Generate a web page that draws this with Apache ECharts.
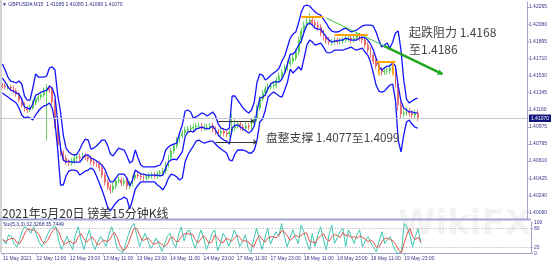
<!DOCTYPE html>
<html><head><meta charset="utf-8">
<script src="https://cdn.jsdelivr.net/npm/echarts@6/dist/echarts.min.js"></script>
<style>html,body{margin:0;padding:0;background:#fff}#c{width:554px;height:265px}</style>
</head><body><div id="c"></div>
<script>
// ---- data (hourly aggregation of GBPUSD M15) ----
const firstOpen = 1.41420;
const lastPrice = 1.41070;
const closes = [
1.41416,1.41406,1.41406,1.41395,1.41363,1.41330,1.41266,1.41212,1.41169,1.41159,
1.41180,1.41234,1.41277,1.41298,1.41320,1.41363,1.41395,1.41373,1.41245,1.40998,
1.40783,1.40697,1.40643,1.40600,1.40589,1.40611,1.40643,1.40654,1.40643,1.40665,
1.40654,1.40632,1.40600,1.40589,1.40579,1.40536,1.40461,1.40385,1.40332,1.40299,
1.40342,1.40396,1.40407,1.40375,1.40396,1.40342,1.40364,1.40428,1.40461,1.40450,
1.40439,1.40428,1.40439,1.40450,1.40461,1.40450,1.40471,1.40482,1.40503,1.40568,
1.40643,1.40718,1.40772,1.40836,1.40879,1.40912,1.40944,1.40955,1.40965,1.40976,
1.40987,1.40987,1.40965,1.40976,1.40976,1.40987,1.40955,1.40922,1.40912,1.40933,
1.40912,1.40901,1.40922,1.40965,1.40987,1.41008,1.40976,1.40965,1.40987,1.40976,
1.41008,1.41062,1.41180,1.41277,1.41341,1.41384,1.41406,1.41416,1.41427,1.41481,
1.41524,1.41567,1.41610,1.41653,1.41685,1.41717,1.41782,1.41910,1.42007,1.42072,
1.42104,1.42125,1.42093,1.42072,1.42050,1.41986,1.41943,1.41910,1.41889,1.41889,
1.41910,1.41900,1.41900,1.41910,1.41921,1.41932,1.41910,1.41932,1.41953,1.41932,
1.41910,1.41857,1.41803,1.41749,1.41685,1.41631,1.41588,1.41567,1.41577,1.41577,
1.41610,1.41588,1.41438,1.41212,1.41116,1.41126,1.41148,1.41126,1.41105,1.41126,1.41070];
const highs = [
1.41450,1.41445,1.41440,1.41430,1.41420,1.41390,1.41355,1.41295,1.41240,1.41200,
1.41210,1.41265,1.41310,1.41330,1.41355,1.41400,1.41440,1.41430,1.41400,1.41270,
1.41020,1.40810,1.40730,1.40680,1.40630,1.40645,1.40680,1.40690,1.40690,1.40700,
1.40700,1.40690,1.40665,1.40630,1.40620,1.40610,1.40565,1.40490,1.40415,1.40360,
1.40375,1.40430,1.40445,1.40440,1.40430,1.40425,1.40395,1.40460,1.40495,1.40490,
1.40480,1.40470,1.40470,1.40485,1.40495,1.40490,1.40505,1.40515,1.40540,1.40600,
1.40675,1.40750,1.40805,1.40870,1.40915,1.40945,1.40980,1.40990,1.41000,1.41010,
1.41020,1.41025,1.41020,1.41010,1.41010,1.41020,1.41020,1.40985,1.40955,1.40965,
1.40965,1.40945,1.40955,1.41120,1.41060,1.41045,1.41040,1.41010,1.41025,1.41020,
1.41045,1.41095,1.41215,1.41310,1.41375,1.41420,1.41445,1.41455,1.41465,1.41515,
1.41560,1.41600,1.41645,1.41690,1.41720,1.41755,1.41820,1.41945,1.42045,1.42110,
1.42150,1.42200,1.42165,1.42130,1.42110,1.42080,1.42020,1.41975,1.41945,1.41925,
1.41945,1.41940,1.41935,1.41945,1.41955,1.41970,1.41965,1.41965,1.41990,1.41985,
1.41965,1.41940,1.41890,1.41835,1.41780,1.41720,1.41665,1.41620,1.41615,1.41615,
1.41650,1.41645,1.41620,1.41470,1.41250,1.41170,1.41185,1.41180,1.41160,1.41165,1.41160];
const lows = [
1.41390,1.41380,1.41375,1.41365,1.41335,1.41300,1.41240,1.41185,1.41140,1.41125,
1.41135,1.41160,1.41210,1.41250,1.41270,1.41295,1.40830,1.41340,1.41210,1.40960,
1.40750,1.40665,1.40610,1.40570,1.40555,1.40560,1.40580,1.40610,1.40610,1.40615,
1.40620,1.40600,1.40570,1.40555,1.40545,1.40500,1.40430,1.40350,1.40300,1.40260,
1.40270,1.40315,1.40370,1.40340,1.40345,1.40305,1.40310,1.40335,1.40400,1.40420,
1.40405,1.40395,1.40400,1.40410,1.40420,1.40420,1.40420,1.40440,1.40450,1.40475,
1.40540,1.40615,1.40690,1.40745,1.40805,1.40850,1.40880,1.40910,1.40920,1.40930,
1.40940,1.40950,1.40930,1.40930,1.40940,1.40945,1.40920,1.40890,1.40875,1.40880,
1.40875,1.40865,1.40870,1.40890,1.40935,1.40955,1.40940,1.40930,1.40935,1.40940,
1.40945,1.40980,1.41035,1.41150,1.41250,1.41310,1.41350,1.41375,1.41385,1.41395,
1.41450,1.41490,1.41535,1.41580,1.41620,1.41650,1.41685,1.41750,1.41875,1.41975,
1.42040,1.42070,1.42060,1.42035,1.42010,1.41950,1.41905,1.41875,1.41855,1.41850,
1.41860,1.41865,1.41865,1.41870,1.41880,1.41890,1.41875,1.41880,1.41900,1.41900,
1.41875,1.41820,1.41770,1.41715,1.41650,1.41595,1.41550,1.41530,1.41535,1.41540,
1.41545,1.41550,1.41400,1.41150,1.41070,1.41080,1.41095,1.41085,1.41060,1.41070,1.41040];
const bbUpper = [
1.41653,1.41588,1.41513,1.41470,1.41460,1.41449,1.41470,1.41438,1.41309,1.41266,
1.41266,1.41395,1.41545,1.41513,1.41513,1.41513,1.41524,1.41610,1.41621,1.41588,
1.41319,1.41138,1.40890,1.40750,1.40708,1.40686,1.40675,1.40686,1.40739,1.40804,
1.40847,1.40836,1.40739,1.40750,1.40772,1.40804,1.40836,1.40836,1.40782,1.40686,
1.40665,1.40708,1.40750,1.40739,1.40729,1.40665,1.40590,1.40611,1.40729,1.40643,
1.40568,1.40547,1.40547,1.40547,1.40547,1.40547,1.40558,1.40568,1.40622,1.40729,
1.40761,1.40782,1.40793,1.40804,1.40912,1.40997,1.41148,1.41159,1.41138,1.41073,
1.41084,1.41105,1.41127,1.41116,1.41095,1.41116,1.41138,1.41095,1.41008,1.40965,
1.40954,1.40944,1.40965,1.41309,1.41309,1.41266,1.41223,1.41180,1.41148,1.41127,
1.41159,1.41245,1.41460,1.41545,1.41534,1.41481,1.41502,1.41534,1.41556,1.41577,
1.41610,1.41685,1.41739,1.41835,1.41932,1.41975,1.41997,1.42093,1.42212,1.42276,
1.42286,1.42276,1.42243,1.42212,1.42190,1.42179,1.42136,1.42093,1.42039,1.42007,
1.41997,1.41997,1.42007,1.42028,1.42039,1.42018,1.41997,1.42007,1.42018,1.42039,
1.42061,1.42071,1.42071,1.42071,1.42061,1.41997,1.41910,1.41835,1.41856,1.41878,
1.41824,1.41889,1.41986,1.42007,1.41803,1.41481,1.41276,1.41234,1.41255,1.41276,1.41287];
const bbMiddle = [
1.41502,1.41460,1.41406,1.41373,1.41362,1.41341,1.41330,1.41276,1.41191,1.41180,
1.41169,1.41223,1.41319,1.41330,1.41352,1.41362,1.41373,1.41416,1.41395,1.41309,
1.41030,1.40750,1.40622,1.40600,1.40611,1.40600,1.40600,1.40600,1.40600,1.40643,
1.40675,1.40675,1.40643,1.40632,1.40611,1.40590,1.40568,1.40525,1.40450,1.40386,
1.40386,1.40428,1.40471,1.40471,1.40471,1.40428,1.40342,1.40407,1.40514,1.40493,
1.40471,1.40471,1.40460,1.40460,1.40460,1.40460,1.40460,1.40450,1.40460,1.40536,
1.40600,1.40622,1.40632,1.40622,1.40665,1.40708,1.40869,1.40922,1.40933,1.40922,
1.40955,1.40965,1.40976,1.40965,1.40955,1.40965,1.40987,1.40944,1.40890,1.40858,
1.40836,1.40825,1.40793,1.40965,1.40997,1.40997,1.40976,1.40955,1.40933,1.40912,
1.40933,1.40987,1.41148,1.41287,1.41298,1.41319,1.41395,1.41438,1.41460,1.41460,
1.41460,1.41492,1.41556,1.41653,1.41760,1.41760,1.41792,1.41857,1.41900,1.41997,
1.42071,1.42093,1.42071,1.42039,1.42028,1.42028,1.41986,1.41943,1.41910,1.41889,
1.41900,1.41900,1.41910,1.41910,1.41932,1.41921,1.41910,1.41910,1.41910,1.41932,
1.41943,1.41932,1.41910,1.41867,1.41803,1.41717,1.41631,1.41588,1.41610,1.41631,
1.41631,1.41664,1.41631,1.41416,1.41255,1.41180,1.41159,1.41138,1.41138,1.41127,1.41127];
const bbLower = [
1.41341,1.41319,1.41298,1.41276,1.41255,1.41234,1.41180,1.41105,1.41073,1.41084,
1.41073,1.41051,1.41105,1.41148,1.41180,1.41202,1.41212,1.41234,1.41180,1.41030,
1.40729,1.40353,1.40353,1.40450,1.40503,1.40514,1.40514,1.40503,1.40460,1.40482,
1.40503,1.40514,1.40536,1.40514,1.40450,1.40375,1.40299,1.40214,1.40117,1.40074,
1.40117,1.40160,1.40192,1.40203,1.40224,1.40203,1.40096,1.40192,1.40310,1.40353,
1.40386,1.40386,1.40386,1.40386,1.40386,1.40386,1.40353,1.40332,1.40299,1.40353,
1.40428,1.40471,1.40460,1.40439,1.40407,1.40428,1.40600,1.40675,1.40729,1.40772,
1.40825,1.40836,1.40815,1.40804,1.40815,1.40825,1.40825,1.40793,1.40761,1.40739,
1.40718,1.40697,1.40622,1.40611,1.40686,1.40729,1.40729,1.40729,1.40718,1.40697,
1.40697,1.40729,1.40836,1.41030,1.41062,1.41159,1.41298,1.41330,1.41352,1.41330,
1.41309,1.41298,1.41373,1.41460,1.41599,1.41556,1.41588,1.41621,1.41588,1.41717,
1.41856,1.41910,1.41889,1.41856,1.41867,1.41878,1.41835,1.41782,1.41771,1.41782,
1.41803,1.41803,1.41803,1.41803,1.41814,1.41824,1.41835,1.41814,1.41803,1.41814,
1.41824,1.41782,1.41749,1.41674,1.41556,1.41427,1.41362,1.41352,1.41362,1.41395,
1.41427,1.41438,1.41266,1.40836,1.40708,1.40890,1.41030,1.41051,1.41008,1.40976,1.40965];
const stochK = [
45,30,60,55,30,20,45,75,86,78, 65,86,60,35,22,40,62,78,85,86,
40,12,35,55,30,12,60,86,45,12, 50,76,35,12,35,55,40,22,60,86,
55,15,8,3,30,60,85,97,60,22, 45,65,40,16,30,50,30,6,30,55,
65,35,18,60,86,40,70,76,40,16, 45,76,50,12,35,65,76,8,30,65,
50,22,45,76,55,22,40,60,15,3, 45,81,45,12,50,81,30,50,70,55,
97,55,21,50,76,50,32,92,70,35, 11,65,22,60,86,45,11,60,92,32,
50,70,81,21,76,55,32,60,76,21, 40,54,35,18,5,40,70,32,45,54,
25,5,0,5,97,85,60,21,55,80,32];
const stochD = [
45,38,45,48,48,35,32,47,69,80, 76,76,70,60,39,32,41,60,75,83,
70,46,29,34,40,32,34,53,64,48, 36,46,54,41,27,34,43,39,41,56,
67,52,26,9,14,31,58,81,81,60, 42,44,50,40,29,32,37,29,22,30,
50,52,39,38,55,62,65,62,62,44, 34,46,57,46,32,37,59,50,38,34,
48,46,39,48,59,51,39,41,38,26, 21,43,57,46,36,48,54,54,50,58,
74,69,58,42,49,59,53,58,65,66, 39,37,33,49,56,64,47,39,54,61,
58,51,67,57,59,51,54,49,56,52, 46,38,43,36,19,21,38,47,49,44,
41,28,10,3,34,62,81,55,45,52,36];
const tickIndex = [0,12,24,36,48,60,72,84,96,108,120,132,144];
const tickLabels = ['11 May 2021','12 May 11:00','12 May 23:00','13 May 11:00','13 May 23:00','14 May 11:00','14 May 23:00','17 May 11:00','17 May 23:00','18 May 11:00','18 May 23:00','19 May 11:00','19 May 23:00'];
const priceTicks = [1.42265,1.42080,1.41895,1.41710,1.41530,1.41345,1.41160,1.40975,1.40795,1.40610,1.40425,1.40240,1.40060];
const stochTicks = [0,20,80,100];
const slotCount = 190; // hourly slots incl. right-hand empty shift area

// ---- build ----
const categories = Array.from({length: slotCount}, (_, i) => String(i));
const opens = [firstOpen].concat(closes.slice(0, -1));
const candles = closes.map((c, i) => [opens[i], c, lows[i], highs[i]]);
const labelMap = {}; tickIndex.forEach((t, k) => labelMap[t] = tickLabels[k]);
const showTick = (idx) => labelMap[idx] !== undefined;
const axisCol = '#a4a4cc', lblCol = '#36368c';
const tiny = {fontSize: 5, color: lblCol, fontFamily: 'Liberation Sans'};
const cjk = 'Noto Sans CJK SC';
const priceLabels = priceTicks.concat([lastPrice]);
const orange = {color: '#ffa500', width: 2, type: 'solid'};
const orangeLeg = {color: '#ffa500', width: 1.5, type: 'solid'};

const chart = echarts.init(document.getElementById('c'), null, {renderer: 'canvas'});
chart.setOption({
  animation: false,
  backgroundColor: '#ffffff',
  grid: [
    {left: 1, right: 23, top: 2, height: 217},
    {left: 1, right: 23, top: 222.5, height: 30.8}
  ],
  xAxis: [
    {type: 'category', gridIndex: 0, data: categories, boundaryGap: true,
     axisLine: {show: false}, axisTick: {show: false}, axisLabel: {show: false}, splitLine: {show: false}},
    {type: 'category', gridIndex: 1, data: categories, boundaryGap: true,
     axisLine: {lineStyle: {color: axisCol}},
     axisTick: {show: true, interval: showTick, alignWithLabel: true, length: 2, lineStyle: {color: axisCol}},
     axisLabel: Object.assign({interval: showTick, align: 'left', margin: 3,
       formatter: (v, idx) => labelMap[idx] || ''}, tiny),
     splitLine: {show: false}}
  ],
  yAxis: [
    {type: 'value', gridIndex: 0, position: 'right', min: 1.39988, max: 1.42319,
     splitLine: {show: false}, axisLine: {show: true, lineStyle: {color: axisCol}},
     axisTick: {show: true, customValues: priceTicks, length: 2, lineStyle: {color: axisCol}},
     axisLabel: Object.assign({customValues: priceLabels, margin: 2,
       formatter: v => Math.abs(v - lastPrice) < 1e-9 ? '{cur|' + v.toFixed(5) + '}' : v.toFixed(5),
       rich: {cur: {backgroundColor: '#14147e', color: '#ffffff', fontSize: 5, fontFamily: 'Liberation Sans', padding: [1.5, 2, 1, 2]}}}, tiny)},
    {type: 'value', gridIndex: 1, position: 'right', min: 0, max: 100,
     splitLine: {show: false}, axisLine: {show: true, lineStyle: {color: axisCol}},
     axisTick: {show: true, customValues: stochTicks, length: 2, lineStyle: {color: axisCol}},
     axisLabel: Object.assign({customValues: stochTicks, margin: 3}, tiny)}
  ],
  series: [
    {type: 'candlestick', xAxisIndex: 0, yAxisIndex: 0, data: candles, barMaxWidth: 1.8,
     itemStyle: {color: '#7fe07f', color0: '#f08c8c', borderColor: '#45c945', borderColor0: '#e45a5a', borderWidth: 0.8}},
    {type: 'line', xAxisIndex: 0, yAxisIndex: 0, data: bbUpper, showSymbol: false, lineStyle: {color: '#1414ff', width: 1.3}},
    {type: 'line', xAxisIndex: 0, yAxisIndex: 0, data: bbMiddle, showSymbol: false, lineStyle: {color: '#1414ff', width: 1.3},
     markLine: {silent: true, symbol: ['none', 'none'], animation: false, precision: 5,
       lineStyle: {color: '#c2c8d4', width: 1, type: 'solid'}, label: {show: false},
       data: [{yAxis: lastPrice}]}},
    {type: 'line', xAxisIndex: 0, yAxisIndex: 0, data: bbLower, showSymbol: false, lineStyle: {color: '#1414ff', width: 1.3}},
    {type: 'line', xAxisIndex: 0, yAxisIndex: 0, data: [], z: 6,
     markLine: {silent: true, animation: false, precision: 5, symbol: ['none', 'none'], label: {show: false},
       data: [
         [{coord: [117, 1.42147], lineStyle: {color: '#3cc43c', width: 1, type: 'solid'}}, {coord: [139, 1.41832]}],
         [{coord: [138, 1.41846], symbol: 'none', lineStyle: {color: '#1fa51f', width: 2.5, type: 'solid'}}, {coord: [159, 1.41545], symbol: 'arrow', symbolSize: 5}],
         [{coord: [108, 1.42157], lineStyle: orange}, {coord: [116, 1.42157]}],
         [{coord: [120, 1.41964], lineStyle: orange}, {coord: [132, 1.41964]}],
         [{coord: [135, 1.41674], lineStyle: orange}, {coord: [142, 1.41674]}],
         [{coord: [136, 1.41674], lineStyle: orangeLeg}, {coord: [136, 1.41530]}],
         [{coord: [141, 1.41674], lineStyle: orangeLeg}, {coord: [141, 1.41530]}],
         [{coord: [78, 1.41040], symbol: 'none', lineStyle: {color: '#333333', width: 1, type: 'solid'}}, {coord: [91, 1.41040], symbol: 'arrow', symbolSize: 4}],
         [{coord: [77, 1.40815], symbol: 'none', lineStyle: {color: '#333333', width: 1, type: 'solid'}}, {coord: [92, 1.40815], symbol: 'arrow', symbolSize: 4}]
       ]}},
    {type: 'line', xAxisIndex: 1, yAxisIndex: 1, data: stochK, showSymbol: false, lineStyle: {color: '#3cc8b4', width: 1},
     markLine: {silent: true, animation: false, symbol: ['none', 'none'], label: {show: false},
       lineStyle: {color: '#a0a0a0', width: 1, type: [1, 2]}, data: [{yAxis: 20}, {yAxis: 80}]}},
    {type: 'line', xAxisIndex: 1, yAxisIndex: 1, data: stochD, showSymbol: false, lineStyle: {color: '#e8504a', width: 1}}
  ],
  graphic: [
    {type: 'text', left: 398, top: 208, z: 0, silent: true,
     style: {text: 'WikiFX', fontSize: 34, fontWeight: 'bold', fontFamily: 'DejaVu Sans', fill: 'rgba(200,200,200,0.22)'}},
    {type: 'line', z: 10, shape: {x1: 1, y1: 0, x2: 1, y2: 253}, style: {stroke: '#a8a8a8', lineWidth: 1}},
    {type: 'line', z: 10, shape: {x1: 0, y1: 219.5, x2: 531, y2: 219.5}, style: {stroke: '#a4a4d4', lineWidth: 2}},
    {type: 'text', z: 10, x: 2, y: 5, style: {text: '▼ GBPUSD#,M15  1.41085 1.41085 1.41068 1.41070', fontSize: 5, fontFamily: 'Liberation Sans', fill: '#2e2e86', verticalAlign: 'middle'}},
    {type: 'text', z: 10, x: 3, y: 224.5, style: {text: 'Sto(5,3,3) 32.3268 35.7449', fontSize: 5, fontFamily: 'Liberation Sans', fill: '#2e2e86', verticalAlign: 'middle'}},
    {type: 'text', z: 10, x: 2, y: 213, style: {text: '2021年5月20日 镑美15分钟K线', fontSize: 12, fontFamily: cjk, fill: '#333333', verticalAlign: 'middle'}},
    {type: 'text', z: 10, x: 409, y: 32, style: {text: '起跌阻力 1.4168', fontSize: 12, fontFamily: cjk, fill: '#444444', verticalAlign: 'middle'}},
    {type: 'text', z: 10, x: 409, y: 49, style: {text: '至1.4186', fontSize: 12, fontFamily: cjk, fill: '#444444', verticalAlign: 'middle'}},
    {type: 'text', z: 10, x: 266, y: 138, style: {text: '盘整支撑 1.4077至1.4099', fontSize: 11.8, fontFamily: cjk, fill: '#444444', verticalAlign: 'middle'}}
  ]
});
</script>
</body></html>
